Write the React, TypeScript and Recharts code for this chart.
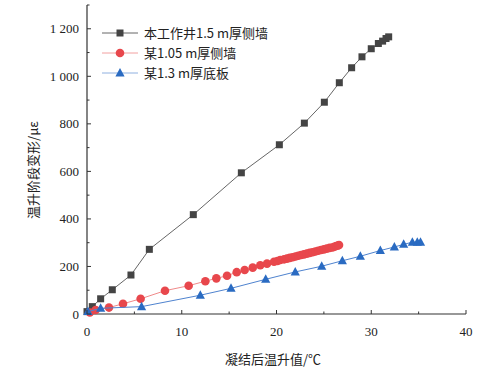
import {
  ScatterChart,
  Scatter,
  XAxis,
  YAxis,
} from "recharts";

// 凝结后温升值 (℃) vs 温升阶段变形 (με)
const wellX = [0, 0.56, 1.44, 2.67, 4.64, 6.58, 11.22, 16.29, 20.3, 22.94, 25.05, 26.63, 27.93, 29.02, 30.0, 30.75, 31.2, 31.56, 31.84];
const wellY = [10, 31, 64, 102, 164, 272, 418, 594, 712, 803, 891, 973, 1036, 1082, 1116, 1138, 1148, 1159, 1166];

const wallX = [0.3, 0.91, 2.32, 3.8, 5.66, 8.23, 10.73, 12.49, 13.65, 14.78, 15.8, 16.64, 17.49, 18.29, 19.0, 19.74, 20.1, 20.4, 20.8, 21.1, 21.4, 21.7, 22.0, 22.3, 22.6, 22.9, 23.2, 23.5, 23.8, 24.1, 24.4, 24.7, 25.0, 25.3, 25.6, 25.9, 26.1, 26.3, 26.5, 26.6];
const wallY = [6, 17, 27, 43, 64, 98, 119, 138, 150, 161, 176, 185, 195, 205, 212, 220, 223, 227, 230, 233, 236, 239, 242, 245, 248, 251, 254, 257, 260, 263, 266, 269, 272, 275, 278, 280, 283, 286, 288, 290];

const slabX = [0.1, 1.44, 5.76, 11.96, 15.2, 18.86, 21.98, 24.77, 26.95, 28.85, 30.96, 32.44, 33.42, 34.34, 34.86, 35.2];
const slabY = [10, 24, 31, 79, 108, 146, 177, 201, 224, 243, 267, 282, 293, 302, 302, 302];

const xTicks = [0, 5, 10, 15, 20, 25, 30, 35, 40];
const yTicks = [0, 100, 200, 300, 400, 500, 600, 700, 800, 900, 1000, 1100, 1200, 1300];

const seriesNames = ["本工作井1.5 m厚侧墙", "某1.05 m厚侧墙", "某1.3 m厚底板"];

const toPoints = (xs: number[], ys: number[]) => xs.map((x, i) => ({ x, y: ys[i] }));

const AXIS = "#333";
const FONT = "'Liberation Serif', 'Times New Roman', serif";
const CJK = "'Noto Sans CJK SC', sans-serif";

const fmtY = (v: number) => (v >= 1000 ? `${Math.floor(v / 1000)} ${String(v % 1000).padStart(3, "0")}` : String(v));

function SquareDot(props: any) {
  const { cx, cy } = props;
  if (cx == null || cy == null) return null;
  return <rect x={cx - 3.5} y={cy - 3.5} width={7} height={7} fill="#444" />;
}

function CircleDot(props: any) {
  const { cx, cy } = props;
  if (cx == null || cy == null) return null;
  return <circle cx={cx} cy={cy} r={4.3} fill="#e8474c" />;
}

function TriangleDot(props: any) {
  const { cx, cy } = props;
  if (cx == null || cy == null) return null;
  return <polygon points={`${cx},${cy - 5} ${cx - 4.6},${cy + 3.5} ${cx + 4.6},${cy + 3.5}`} fill="#2a6bc2" />;
}

function YTick(props: any) {
  const { x, y, payload } = props;
  const v = payload.value as number;
  const ax = x + 8;
  const major = v % 200 === 0;
  return (
    <g>
      <line x1={ax} x2={ax + (major ? 4 : 2.5)} y1={y} y2={y} stroke={AXIS} strokeWidth={1} />
      {major && v <= 1200 && (
        <text x={x} y={y} dy={4.5} textAnchor="end" fontFamily={FONT} fontSize={13} fill="#222">
          {fmtY(v)}
        </text>
      )}
    </g>
  );
}

function XTick(props: any) {
  const { x, y, payload } = props;
  const v = payload.value as number;
  const ay = y - 10;
  const major = v % 10 === 0;
  return (
    <g>
      <line x1={x} x2={x} y1={ay} y2={ay - (major ? 4 : 2.5)} stroke={AXIS} strokeWidth={1} />
      {major && (
        <text x={x} y={y} dy={12} textAnchor="middle" fontFamily={FONT} fontSize={13} fill="#222">
          {v}
        </text>
      )}
    </g>
  );
}

const legendItems = [
  { name: seriesNames[0], line: "#666", Dot: SquareDot },
  { name: seriesNames[1], line: "#f2a0a0", Dot: CircleDot },
  { name: seriesNames[2], line: "#8fb0e0", Dot: TriangleDot },
];

export default function App() {
  return (
    <div style={{ position: "absolute", left: 0, top: 0, width: 491, height: 370, background: "#fff" }}>
      <ScatterChart width={491} height={370} margin={{ top: 5, right: 25, left: 27, bottom: 26 }}>
        <XAxis
          type="number"
          dataKey="x"
          domain={[0, 40]}
          ticks={xTicks}
          interval={0}
          tick={<XTick />}
          tickLine={false}
          tickSize={0}
          tickMargin={10}
          height={30}
          axisLine={{ stroke: AXIS, strokeWidth: 1.2 }}
        />
        <XAxis
          xAxisId="top"
          orientation="top"
          type="number"
          domain={[0, 40]}
          tick={false}
          tickLine={false}
          height={0}
          axisLine={{ stroke: AXIS, strokeWidth: 1.2 }}
        />
        <YAxis
          type="number"
          dataKey="y"
          domain={[0, 1300]}
          ticks={yTicks}
          interval={0}
          tick={<YTick />}
          tickLine={false}
          tickSize={0}
          tickMargin={8}
          width={60}
          axisLine={{ stroke: AXIS, strokeWidth: 1.2 }}
        />
        <YAxis
          yAxisId="right"
          orientation="right"
          type="number"
          domain={[0, 1300]}
          tick={false}
          tickLine={false}
          width={0}
          axisLine={{ stroke: AXIS, strokeWidth: 1.2 }}
        />
        <Scatter
          name={seriesNames[0]}
          data={toPoints(wellX, wellY)}
          line={{ stroke: "#666", strokeWidth: 1 }}
          lineType="joint"
          shape={<SquareDot />}
          isAnimationActive={false}
        />
        <Scatter
          name={seriesNames[1]}
          data={toPoints(wallX, wallY)}
          line={{ stroke: "#f08a8a", strokeWidth: 1 }}
          lineType="joint"
          shape={<CircleDot />}
          isAnimationActive={false}
        />
        <Scatter
          name={seriesNames[2]}
          data={toPoints(slabX, slabY)}
          line={{ stroke: "#4f83cf", strokeWidth: 1 }}
          lineType="joint"
          shape={<TriangleDot />}
          isAnimationActive={false}
        />
        <g transform="translate(100, 25)">
          {legendItems.map((it, i) => {
            const cy = 8 + i * 20;
            return (
              <g key={it.name}>
                <line x1={2} x2={38} y1={cy} y2={cy} stroke={it.line} strokeWidth={1} />
                <it.Dot cx={20} cy={cy} />
                <text x={44} y={cy} dy={5} fontFamily={CJK} fontSize={13} fill="#222">
                  {it.name}
                </text>
              </g>
            );
          })}
        </g>
        <text x={33} y={170} transform="rotate(-90 33 170)" textAnchor="middle" dy={5} fontFamily={CJK} fontSize={13} fill="#222">
          温升阶段变形/με
        </text>
        <text x={273} y={360} textAnchor="middle" dy={4} fontFamily={CJK} fontSize={13} fill="#222">
          凝结后温升值/℃
        </text>
      </ScatterChart>
    </div>
  );
}
